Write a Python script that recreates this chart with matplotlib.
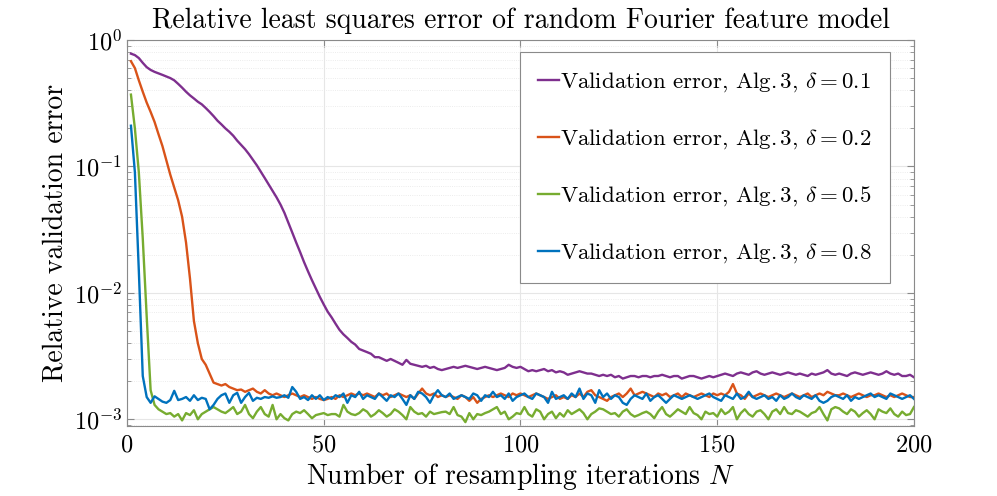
import numpy as np
import matplotlib
matplotlib.use("Agg")
import matplotlib.pyplot as plt
from matplotlib.ticker import LogLocator, NullFormatter

plt.rcParams['font.family'] = 'serif'
plt.rcParams['font.serif'] = ['cmr10']
plt.rcParams['mathtext.fontset'] = 'cm'
plt.rcParams['axes.unicode_minus'] = False
plt.rcParams['axes.formatter.use_mathtext'] = True

# resampling iterations
N = np.arange(1, 201)

# validation errors, in units of 1e-3
err_d01 = [780, 760, 720, 660, 610, 580, 560, 545, 530, 515,
           500, 480, 450, 420, 390, 365, 345, 325, 310, 290,
           270, 250, 230, 215, 200, 188, 175, 160, 148, 137,
           125, 113, 102, 91, 81, 72, 64, 57, 50, 43,
           36, 30, 25, 21, 17.5, 14.8, 12.6, 10.8, 9.3, 8.1,
           7.1, 6.4, 5.7, 5.1, 4.7, 4.4, 4.1, 3.9, 3.6, 3.5,
           3.4, 3.3, 3.1, 3.1, 3.0, 2.9, 3.0, 2.9, 2.8, 2.7,
           2.95, 2.75, 2.7, 2.65, 2.6, 2.65, 2.55, 2.6, 2.5, 2.45,
           2.5, 2.55, 2.6, 2.55, 2.6, 2.65, 2.6, 2.55, 2.5, 2.55,
           2.6, 2.55, 2.5, 2.45, 2.5, 2.55, 2.7, 2.6, 2.55, 2.6,
           2.5, 2.4, 2.45, 2.4, 2.45, 2.5, 2.4, 2.45, 2.35, 2.4,
           2.35, 2.25, 2.3, 2.35, 2.4, 2.35, 2.3, 2.3, 2.25, 2.2,
           2.25, 2.2, 2.25, 2.15, 2.2, 2.1, 2.15, 2.2, 2.2, 2.15,
           2.2, 2.2, 2.15, 2.2, 2.2, 2.25, 2.2, 2.15, 2.2, 2.2,
           2.1, 2.15, 2.2, 2.2, 2.15, 2.1, 2.15, 2.2, 2.15, 2.2,
           2.25, 2.3, 2.25, 2.2, 2.3, 2.35, 2.3, 2.25, 2.35, 2.4,
           2.3, 2.25, 2.3, 2.35, 2.3, 2.25, 2.3, 2.35, 2.3, 2.25,
           2.3, 2.25, 2.2, 2.3, 2.25, 2.3, 2.35, 2.45, 2.3, 2.25,
           2.3, 2.25, 2.2, 2.3, 2.35, 2.3, 2.25, 2.3, 2.35, 2.3,
           2.25, 2.3, 2.4, 2.3, 2.25, 2.3, 2.2, 2.2, 2.25, 2.15]

err_d02 = [680, 600, 480, 390, 320, 270, 225, 180, 145, 112,
           86, 68, 54, 40, 25, 13, 6.0, 4.0, 3.0, 2.7,
           2.3, 1.95, 1.9, 1.85, 1.9, 1.8, 1.75, 1.7, 1.72, 1.65,
           1.7, 1.75, 1.65, 1.6, 1.7, 1.6, 1.55, 1.6, 1.55, 1.5,
           1.55, 1.6, 1.55, 1.5, 1.55, 1.5, 1.45, 1.5, 1.45, 1.42,
           1.45, 1.5, 1.45, 1.55, 1.5, 1.55, 1.6, 1.55, 1.6, 1.55,
           1.6, 1.55, 1.5, 1.6, 1.55, 1.6, 1.5, 1.55, 1.6, 1.55,
           1.5, 1.55, 1.45, 1.6, 1.75, 1.6, 1.55, 1.6, 1.5, 1.55,
           1.5, 1.55, 1.5, 1.45, 1.55, 1.5, 1.4, 1.5, 1.35, 1.45,
           1.5, 1.55, 1.5, 1.55, 1.6, 1.55, 1.5, 1.6, 1.55, 1.6,
           1.55, 1.5, 1.55, 1.6, 1.55, 1.5, 1.45, 1.5, 1.55, 1.45,
           1.5, 1.45, 1.55, 1.5, 1.6, 1.5, 1.65, 1.7, 1.55, 1.5,
           1.45, 1.4, 1.5, 1.55, 1.6, 1.5, 1.6, 1.75, 1.55, 1.6,
           1.65, 1.6, 1.55, 1.5, 1.6, 1.55, 1.6, 1.5, 1.55, 1.6,
           1.5, 1.6, 1.55, 1.5, 1.55, 1.6, 1.55, 1.5, 1.6, 1.55,
           1.6, 1.55, 1.65, 1.9, 1.6, 1.55, 1.45, 1.6, 1.5, 1.55,
           1.6, 1.55, 1.5, 1.55, 1.6, 1.55, 1.5, 1.55, 1.6, 1.55,
           1.5, 1.55, 1.6, 1.5, 1.55, 1.6, 1.55, 1.65, 1.6, 1.55,
           1.55, 1.6, 1.55, 1.5, 1.55, 1.6, 1.55, 1.5, 1.55, 1.55,
           1.6, 1.55, 1.5, 1.55, 1.5, 1.55, 1.6, 1.55, 1.5, 1.5]

err_d05 = [370, 200, 90, 27, 6.5, 1.7, 1.3, 1.2, 1.15, 1.1,
           1.12, 1.05, 1.1, 0.98, 1.12, 1.08, 1.18, 1.0, 1.1, 1.15,
           1.2, 1.25, 1.2, 1.15, 1.12, 1.18, 1.25, 1.1, 1.15, 1.3,
           1.1, 1.02, 1.15, 1.25, 1.1, 1.05, 1.3, 1.0, 1.1, 1.02,
           0.98, 1.1, 1.15, 1.12, 1.18, 1.1, 1.02, 1.08, 1.1, 1.12,
           1.08, 1.1, 1.1, 1.05, 1.3, 1.15, 1.1, 1.08, 1.12, 1.2,
           1.15, 1.05, 1.1, 1.18, 1.12, 1.05, 1.1, 1.2, 1.15, 1.08,
           1.0, 1.25, 1.15, 1.1, 1.12, 1.05, 1.15, 1.1, 1.12, 1.14,
           1.15, 1.1, 1.25, 1.08, 1.05, 0.95, 1.12, 1.0, 1.1, 1.08,
           1.12, 1.15, 1.2, 1.25, 1.1, 1.15, 1.0, 1.05, 1.12, 1.1,
           1.25, 1.1, 1.05, 1.2, 1.15, 1.0, 1.1, 1.15, 1.02, 1.12,
           1.05, 1.18, 1.1, 1.15, 1.2, 1.12, 1.0, 1.1, 1.15, 1.22,
           1.2, 1.15, 1.1, 1.12, 1.05, 1.15, 1.2, 1.1, 1.05, 1.08,
           1.12, 1.15, 1.1, 1.02, 1.15, 1.25, 1.1, 1.05, 1.12, 1.2,
           1.15, 1.1, 1.25, 1.12, 1.08, 1.0, 1.15, 1.1, 1.12, 1.05,
           1.2, 1.1, 1.15, 1.25, 1.0, 1.12, 1.2, 1.1, 1.05, 1.15,
           1.18, 1.1, 1.0, 1.15, 1.2, 1.1, 1.25, 1.12, 1.1, 1.18,
           1.15, 1.1, 1.05, 1.12, 1.15, 1.25, 1.1, 0.98, 1.2, 1.25,
           1.22, 1.15, 1.1, 1.2, 1.15, 1.05, 1.12, 1.18, 1.1, 1.0,
           1.2, 1.15, 1.12, 1.22, 1.1, 1.05, 1.15, 1.08, 1.1, 1.25]

err_d08 = [210, 90, 15, 2.2, 1.5, 1.35, 1.52, 1.45, 1.38, 1.35,
           1.42, 1.68, 1.42, 1.45, 1.5, 1.4, 1.55, 1.42, 1.48, 1.45,
           1.2, 1.3, 1.45, 1.55, 1.6, 1.35, 1.55, 1.62, 1.35, 1.5,
           1.62, 1.4, 1.48, 1.45, 1.5, 1.48, 1.52, 1.48, 1.5, 1.55,
           1.48, 1.8, 1.65, 1.45, 1.5, 1.42, 1.55, 1.45, 1.55, 1.42,
           1.5, 1.45, 1.55, 1.5, 1.6, 1.35, 1.55, 1.5, 1.65, 1.45,
           1.55, 1.5, 1.45, 1.6, 1.5, 1.4, 1.55, 1.5, 1.6, 1.45,
           1.3, 1.55, 1.45, 1.65, 1.6, 1.5, 1.35, 1.55, 1.7, 1.55,
           1.5, 1.6, 1.45, 1.5, 1.55, 1.5, 1.45, 1.6, 1.55, 1.4,
           1.55, 1.5, 1.65, 1.5, 1.55, 1.45, 1.6, 1.4, 1.5, 1.55,
           1.6, 1.5, 1.45, 1.6, 1.55, 1.5, 1.35, 1.65, 1.45, 1.5,
           1.55, 1.45, 1.6, 1.5, 1.75, 1.45, 1.6, 1.55, 1.35, 1.7,
           1.5, 1.6, 1.45, 1.55, 1.5, 1.35, 1.3, 1.45, 1.55, 1.5,
           1.45, 1.6, 1.4, 1.5, 1.55, 1.45, 1.35, 1.45, 1.55, 1.5,
           1.45, 1.5, 1.55, 1.5, 1.45, 1.5, 1.55, 1.6, 1.5, 1.45,
           1.4, 1.55, 1.5, 1.45, 1.6, 1.45, 1.5, 1.65, 1.5, 1.45,
           1.5, 1.55, 1.45, 1.5, 1.4, 1.55, 1.45, 1.5, 1.6, 1.5,
           1.45, 1.55, 1.5, 1.45, 1.55, 1.4, 1.35, 1.4, 1.5, 1.55,
           1.5, 1.45, 1.55, 1.4, 1.5, 1.45, 1.5, 1.55, 1.6, 1.5,
           1.55, 1.5, 1.45, 1.6, 1.55, 1.5, 1.45, 1.5, 1.55, 1.45]

labels = [r'Validation error, Alg.$\,$3, $\delta = 0.1$',
          r'Validation error, Alg.$\,$3, $\delta = 0.2$',
          r'Validation error, Alg.$\,$3, $\delta = 0.5$',
          r'Validation error, Alg.$\,$3, $\delta = 0.8$']
colors = ['#7E2F8E', '#D95319', '#77AC30', '#0072BD']

fig = plt.figure(figsize=(9.97, 4.96), dpi=100)
ax = fig.add_axes([0.1274, 0.1411, 0.7893, 0.7782])

for err, lab, c in zip([err_d01, err_d02, err_d05, err_d08], labels, colors):
    ax.semilogy(N, np.array(err) * 1e-3, color=c, lw=1.7, label=lab)

ax.set_xlim(0, 200)
ax.set_ylim(8.85e-4, 1)
ax.set_xticks([0, 50, 100, 150, 200])
ax.yaxis.set_major_locator(LogLocator(base=10, numticks=10))
ax.yaxis.set_minor_locator(LogLocator(base=10, subs=np.arange(2, 10), numticks=20))
ax.yaxis.set_minor_formatter(NullFormatter())

ax.grid(True, which='major', color='#e6e6e6', lw=0.8)
ax.grid(True, which='minor', axis='y', color='#e6e6e6', lw=0.6, ls=':')
ax.set_axisbelow(True)
for s in ax.spines.values():
    s.set_color('#8a8a8a')
    s.set_linewidth(0.8)
ax.tick_params(which='both', direction='in', top=True, right=True, colors='#8a8a8a',
               labelcolor='black', labelsize=17.5)
ax.tick_params(which='major', length=5)
ax.tick_params(which='minor', length=3)
ax.tick_params(axis='x', pad=6)

ax.set_title('Relative least squares error of random Fourier feature model', fontsize=20, pad=9)
ax.set_xlabel(r'Number of resampling iterations $N$', fontsize=20, labelpad=3)
ax.set_ylabel('Relative validation error', fontsize=20, labelpad=4)

leg = ax.legend(loc='upper right', bbox_to_anchor=(0.9695, 0.969), borderaxespad=0,
                fontsize=16.5, handlelength=0.9, handletextpad=0.05, labelspacing=1.45,
                borderpad=0.8, fancybox=False, framealpha=1, edgecolor='#8a8a8a')
leg.get_frame().set_linewidth(0.8)

fig.savefig('out.png', dpi=100)
